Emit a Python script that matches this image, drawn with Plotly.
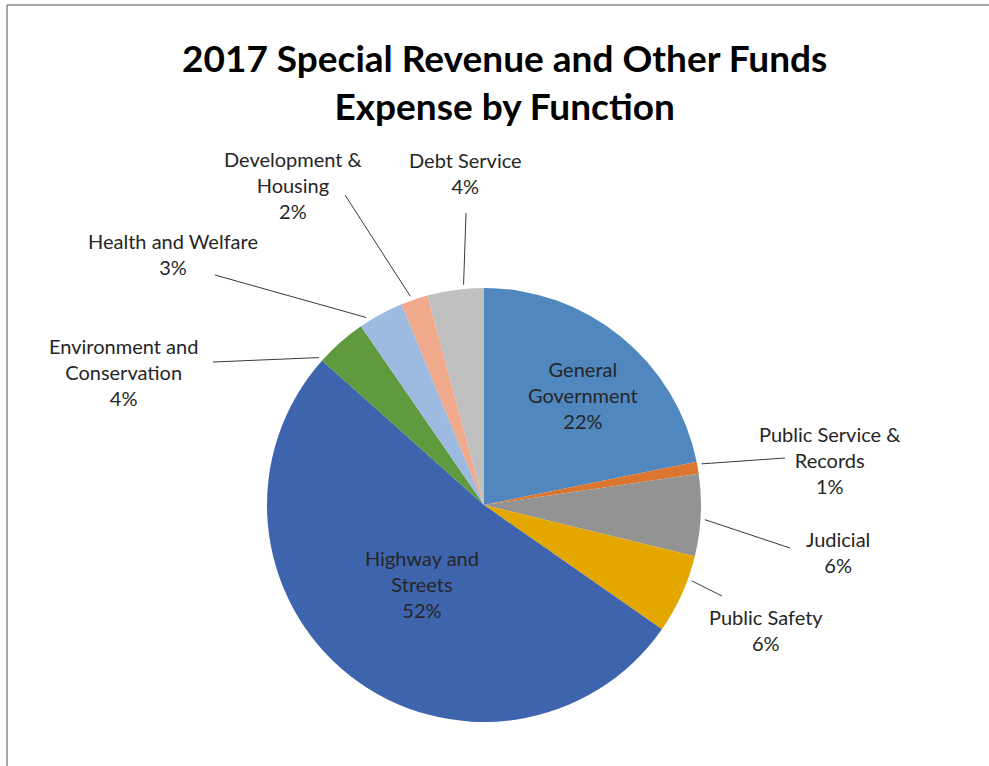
import math
import plotly.graph_objects as go

# Expense shares by function (percent of total), clockwise from 12 o'clock
functions = [
    "General Government",
    "Public Service & Records",
    "Judicial",
    "Public Safety",
    "Highway and Streets",
    "Environment and Conservation",
    "Health and Welfare",
    "Development & Housing",
    "Debt Service",
]
shares = [21.8, 0.9, 6.1, 5.9, 51.9, 3.8, 3.4, 2.0, 4.2]
colors = ["#4F87BE", "#DB7530", "#939393", "#E3A700", "#3E64AD",
          "#5F9A3E", "#9DBAE0", "#F0A98A", "#C0C0C0"]

# Label text lines (how each category name wraps)
label_lines = [
    ["General", "Government"],
    ["Public Service &", "Records"],
    ["Judicial"],
    ["Public Safety"],
    ["Highway and", "Streets"],
    ["Environment and", "Conservation"],
    ["Health and Welfare"],
    ["Development &", "Housing"],
    ["Debt Service"],
]

title_lines = ["2017 Special Revenue and Other Funds", "Expense by Function"]

W, H = 989, 766
CX, CY, R = 484, 505, 217

# Label layout: text centre (px), leader line end (px) or None, and where
# along the slice arc (0..1) the leader line attaches
label_layout = [
    ((583, 395), None, None),
    ((830, 460), (785, 458), 0.25),
    ((838, 552), (790, 548), 0.55),
    ((766, 630), (722, 596), 0.3),
    ((422, 584), None, None),
    ((123, 372), (213, 362), 0.0),
    ((173, 254), (215, 275), 0.2),
    ((293, 185), (345, 195), 0.4),
    ((465, 173), (466, 213), 0.65),
]

fig = go.Figure(go.Pie(
    labels=functions,
    values=shares,
    sort=False,
    direction="clockwise",
    rotation=0,
    marker=dict(colors=colors, line=dict(width=0)),
    textinfo="none",
    hoverinfo="label+percent",
    showlegend=False,
    domain=dict(x=[(CX - R) / W, (CX + R) / W],
                y=[1 - (CY + R) / H, 1 - (CY - R) / H]),
))

total = sum(shares)
cum = 0.0
shapes = []
annotations = []
for name_lines, val, (tpos, lend, frac) in zip(label_lines, shares, label_layout):
    pct = round(val / total * 100)
    text = "<br>".join(name_lines + [f"{pct}%"])
    annotations.append(dict(
        x=tpos[0] / W, y=1 - tpos[1] / H, xref="paper", yref="paper",
        text=text, showarrow=False, align="center",
        xanchor="center", yanchor="middle",
        font=dict(family="Lato", size=20, color="#262626"),
    ))
    if lend is not None:
        ang = 2 * math.pi * (cum + frac * val) / total
        sx = CX + R * 1.02 * math.sin(ang)
        sy = CY - R * 1.02 * math.cos(ang)
        shapes.append(dict(
            type="line", xref="paper", yref="paper",
            x0=sx / W, y0=1 - sy / H, x1=lend[0] / W, y1=1 - lend[1] / H,
            line=dict(color="#3a3a3a", width=1),
        ))
    cum += val

# Chart title
annotations.append(dict(
    x=504 / W, y=1 - 82 / H, xref="paper", yref="paper",
    text="<b>" + "<br>".join(title_lines) + "</b>", showarrow=False,
    align="center", xanchor="center", yanchor="middle",
    font=dict(family="Lato", size=37, color="black"),
))

# Chart frame (top and left edges)
shapes.append(dict(type="line", xref="paper", yref="paper",
                   x0=7 / W, y0=1 - 5 / H, x1=1.0, y1=1 - 5 / H,
                   line=dict(color="#8a8a8a", width=1.5)))
shapes.append(dict(type="line", xref="paper", yref="paper",
                   x0=7 / W, y0=1 - 5 / H, x1=7 / W, y1=0,
                   line=dict(color="#8a8a8a", width=1.5)))

fig.update_layout(
    width=W, height=H,
    margin=dict(l=0, r=0, t=0, b=0),
    paper_bgcolor="white",
    shapes=shapes,
    annotations=annotations,
)

fig.write_html("out.html")
